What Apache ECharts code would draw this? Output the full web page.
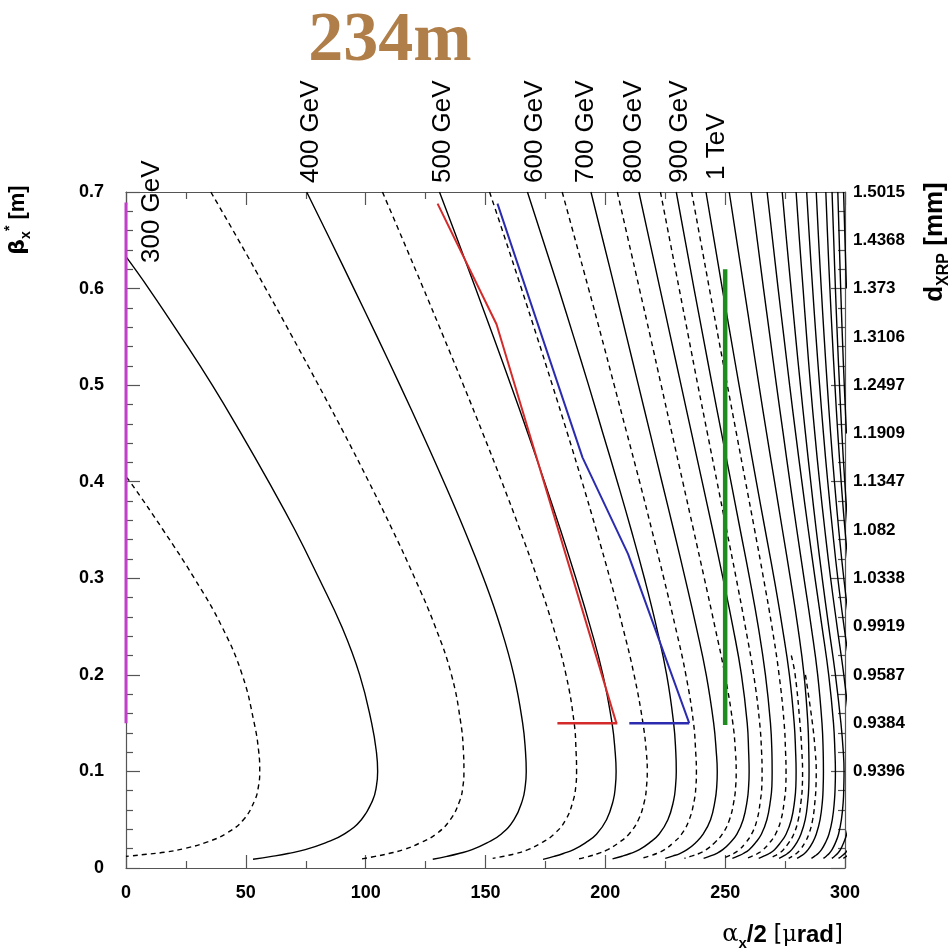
<!DOCTYPE html>
<html><head><meta charset="utf-8">
<script src="https://cdn.jsdelivr.net/npm/echarts/dist/echarts.min.js"></script>
<style>html,body{margin:0;padding:0;background:#fff}#c{width:952px;height:952px}</style>
</head><body><div id="c"></div>
<script>
// ---------- data: [alpha_x/2 (urad), beta_x* (m)] ----------
const e250 = [[0,0.405],[1.7,0.4],[15.5,0.35],[28.5,0.3],[40,0.25],[48.5,0.2],[53.5,0.15],[55.4,0.12],[55.8,0.1],[55.3,0.085],[53.7,0.07],[49,0.05],[42,0.036],[34,0.027],[25,0.0205],[16,0.0163],[8.5,0.0142],[1.7,0.0124],[0,0.012]];
const e300 = [[0,0.633],[9.5,0.6],[23,0.55],[36,0.5],[48,0.45],[59.5,0.4],[70.5,0.35],[80.5,0.3],[90,0.25],[97.5,0.2],[102.5,0.15],[104.5,0.12],[105,0.1],[104.5,0.085],[102.9,0.07],[98.2,0.05],[91,0.035],[83.2,0.026],[74.8,0.019],[67.6,0.015],[60.8,0.012],[53,0.009]];
const e350 = [[35.4,0.7],[47,0.65],[58.3,0.6],[69.4,0.55],[80.3,0.5],[91,0.45],[101.3,0.4],[111.2,0.35],[120.5,0.3],[129,0.25],[135.8,0.2],[139.7,0.15],[140.8,0.12],[141,0.1],[140.6,0.085],[139.3,0.07],[135.3,0.05],[129.3,0.035],[122.7,0.026],[115.8,0.019],[109.7,0.015],[104,0.012],[97.5,0.009]];
const e400 = [[75.4,0.7],[85.3,0.65],[95.1,0.6],[104.8,0.55],[114.3,0.5],[123.6,0.45],[132.6,0.4],[141.2,0.35],[149.2,0.3],[156.2,0.25],[161.8,0.2],[165.5,0.15],[166.7,0.12],[167,0.1],[166.6,0.085],[165.4,0.07],[161.9,0.05],[156.5,0.035],[150.6,0.026],[144.4,0.019],[138.9,0.015],[133.9,0.012],[128,0.009]];
const e450 = [[107,0.7],[115.6,0.65],[124.1,0.6],[132.5,0.55],[140.8,0.5],[148.9,0.45],[156.8,0.4],[164.4,0.35],[171.6,0.3],[178.2,0.25],[183.6,0.2],[187,0.15],[187.8,0.12],[188,0.1],[187.7,0.085],[186.6,0.07],[183.5,0.05],[178.6,0.035],[173.3,0.026],[167.7,0.019],[162.8,0.015],[158.3,0.0125],[153,0.01]];
const e500 = [[130.8,0.7],[138.4,0.65],[145.9,0.6],[153.3,0.55],[160.6,0.5],[167.7,0.45],[174.6,0.4],[181.3,0.35],[187.7,0.3],[193.7,0.25],[199,0.2],[202.8,0.15],[204.1,0.12],[204.5,0.1],[204.2,0.085],[203.3,0.07],[200.5,0.05],[196.3,0.035],[191.7,0.026],[186.8,0.019],[182.5,0.015],[178.6,0.012],[174,0.009]];
const e550 = [[151.7,0.7],[158.4,0.65],[165,0.6],[171.5,0.55],[177.9,0.5],[184.2,0.45],[190.3,0.4],[196.2,0.35],[201.9,0.3],[207.2,0.25],[212,0.2],[215.7,0.15],[217.1,0.12],[217.5,0.1],[217.2,0.085],[216.4,0.07],[213.8,0.05],[209.8,0.035],[205.5,0.026],[201,0.019],[197,0.015],[193.3,0.0122],[189,0.0095]];
const e600 = [[167.5,0.7],[174,0.65],[180.5,0.6],[186.8,0.55],[193,0.5],[199,0.45],[205,0.4],[210.8,0.35],[216.3,0.3],[221.3,0.25],[225.6,0.2],[228.5,0.15],[229.4,0.12],[229.6,0.1],[229.3,0.085],[228.5,0.07],[226.1,0.05],[222.4,0.035],[218.4,0.026],[214.2,0.019],[210.4,0.015],[207,0.0122],[203,0.0095]];
const e650 = [[182,0.7],[187.5,0.65],[193,0.6],[198.4,0.55],[203.7,0.5],[209,0.45],[214.3,0.4],[219.4,0.35],[224.4,0.3],[229.2,0.25],[233.6,0.2],[236.8,0.15],[237.7,0.12],[238,0.1],[237.8,0.085],[237.1,0.07],[235,0.05],[231.8,0.035],[228.3,0.026],[224.7,0.019],[221.4,0.015],[218.5,0.0125],[215,0.01]];
const e700 = [[194,0.7],[199,0.65],[204,0.6],[208.9,0.55],[213.8,0.5],[218.7,0.45],[223.6,0.4],[228.5,0.35],[233.3,0.3],[237.9,0.25],[242.1,0.2],[245.2,0.15],[246.3,0.12],[246.7,0.1],[246.5,0.085],[245.8,0.07],[243.9,0.05],[240.8,0.035],[237.6,0.026],[234.1,0.019],[231.1,0.015],[228.3,0.0125],[225,0.01]];
const e750 = [[205,0.7],[209.6,0.65],[214.2,0.6],[218.8,0.55],[223.3,0.5],[227.8,0.45],[232.3,0.4],[236.8,0.35],[241.3,0.3],[245.7,0.25],[249.9,0.2],[253.2,0.15],[254.3,0.12],[254.6,0.1],[254.4,0.085],[253.7,0.07],[251.8,0.05],[248.8,0.035],[245.5,0.026],[242.1,0.019],[239.1,0.015],[236.2,0.0125],[233,0.01]];
const e800 = [[214,0.7],[218.4,0.65],[222.8,0.6],[227.2,0.55],[231.6,0.5],[236,0.45],[240.4,0.4],[244.8,0.35],[249.1,0.3],[253.2,0.25],[256.8,0.2],[259.2,0.15],[259.8,0.12],[260,0.1],[259.8,0.085],[259.2,0.07],[257.5,0.05],[254.9,0.035],[252,0.026],[249,0.019],[246.3,0.015],[243.9,0.0125],[241,0.01]];
const e850 = [[223,0.7],[226.9,0.65],[230.8,0.6],[234.7,0.55],[238.6,0.5],[242.6,0.45],[246.6,0.4],[250.6,0.35],[254.6,0.3],[258.4,0.25],[261.9,0.2],[264.4,0.15],[265.2,0.12],[265.4,0.1],[265.3,0.085],[264.7,0.07],[263.3,0.05],[261,0.035],[258.5,0.026],[255.9,0.019],[253.6,0.015],[251.5,0.0125],[249,0.01]];
const e900 = [[229.6,0.7],[233.3,0.65],[237,0.6],[240.8,0.55],[244.6,0.5],[248.5,0.45],[252.4,0.4],[256.3,0.35],[260.2,0.3],[263.8,0.25],[266.8,0.2],[268.9,0.15],[269.5,0.12],[269.6,0.1],[269.5,0.085],[268.9,0.07],[267.4,0.05],[265.1,0.035],[262.6,0.026],[260,0.019],[257.6,0.015],[255.5,0.0125],[253,0.01]];
const e950 = [[236,0.7],[239.7,0.65],[243.4,0.6],[247.1,0.55],[250.9,0.5],[254.7,0.45],[258.5,0.4],[262.3,0.35],[266,0.3],[269.5,0.25],[272.5,0.2],[274.6,0.15],[275.2,0.12],[275.4,0.1],[275.3,0.085],[274.7,0.07],[273.3,0.05],[271,0.035],[268.5,0.026],[265.9,0.019],[263.6,0.015],[261.5,0.0125],[259,0.01]];
const e1000 = [[242,0.7],[245.4,0.65],[248.8,0.6],[252.3,0.55],[255.8,0.5],[259.4,0.45],[263,0.4],[266.7,0.35],[270.4,0.3],[273.8,0.25],[276.8,0.2],[278.8,0.15],[279.4,0.12],[279.6,0.1],[279.5,0.085],[279,0.07],[277.6,0.05],[275.4,0.035],[273,0.026],[270.6,0.019],[268.4,0.015],[266.3,0.0125],[264,0.01]];
const e1050 = [[277.6,0.22],[279.2,0.2],[281.2,0.15],[282,0.12],[282.3,0.1],[282.2,0.085],[281.7,0.07],[280.5,0.05],[278.6,0.035],[276.5,0.026],[274.3,0.019],[272.4,0.015],[270.6,0.0125],[268.5,0.01]];
const e1100 = [[251.7,0.7],[254.8,0.65],[257.9,0.6],[261,0.55],[264.1,0.5],[267.3,0.45],[270.6,0.4],[273.9,0.35],[277.2,0.3],[280.3,0.25],[282.9,0.2],[284.5,0.15],[284.9,0.12],[285,0.1],[284.9,0.085],[284.5,0.07],[283.4,0.05],[281.6,0.035],[279.8,0.026],[277.8,0.019],[276,0.015],[274.4,0.0125],[272.5,0.01]];
const e1150 = [[283.5,0.2],[286.4,0.15],[287.6,0.12],[288,0.1],[287.9,0.085],[287.5,0.07],[286.5,0.05],[284.9,0.035],[283.2,0.026],[281.3,0.019],[279.7,0.015],[278.2,0.0125],[276.5,0.01]];
const e1200 = [[260.8,0.7],[263.4,0.65],[266,0.6],[268.7,0.55],[271.4,0.5],[274.2,0.45],[277,0.4],[279.9,0.35],[282.9,0.3],[285.9,0.25],[288.6,0.2],[290.4,0.15],[290.9,0.12],[291,0.1],[290.9,0.085],[290.6,0.07],[289.6,0.05],[288,0.035],[286.4,0.026],[284.6,0.019],[283.1,0.015],[281.7,0.0125],[280,0.01]];
const e1300 = [[267.5,0.7],[269.8,0.65],[272.1,0.6],[274.5,0.55],[276.9,0.5],[279.4,0.45],[282,0.4],[284.7,0.35],[287.5,0.3],[290.4,0.25],[293.2,0.2],[295.2,0.15],[295.8,0.12],[296,0.1],[295.9,0.085],[295.6,0.07],[294.7,0.05],[293.3,0.035],[291.8,0.026],[290.2,0.019],[288.8,0.015],[287.5,0.0125],[286,0.01]];
const e1400 = [[273.8,0.7],[275.6,0.65],[277.5,0.6],[279.4,0.55],[281.4,0.5],[283.5,0.45],[285.7,0.4],[288,0.35],[290.5,0.3],[293.2,0.25],[296,0.2],[298.3,0.15],[299.3,0.12],[299.6,0.1],[299.5,0.085],[299.3,0.07],[298.5,0.05],[297.3,0.035],[296,0.026],[294.6,0.019],[293.4,0.015],[292.3,0.0125],[291,0.01]];
const e1500 = [[279.6,0.7],[281,0.65],[282.5,0.6],[284,0.55],[285.6,0.5],[287.4,0.45],[289.4,0.4],[291.6,0.35],[294,0.3],[296.7,0.25],[299.5,0.2],[301.8,0.15],[302.7,0.12],[303,0.1],[302.9,0.085],[302.7,0.07],[301.9,0.05],[300.7,0.035],[299.4,0.026],[298.1,0.019],[296.9,0.015],[295.8,0.0125],[294.5,0.01]];
const e1600 = [[284,0.7],[285.2,0.65],[286.5,0.6],[287.9,0.55],[289.4,0.5],[291,0.45],[292.8,0.4],[294.8,0.35],[297,0.3],[299.6,0.25],[302.5,0.2],[305,0.15],[306.1,0.12],[306.5,0.1],[306.4,0.085],[306.1,0.07],[305.3,0.05],[304,0.035],[302.6,0.026],[301.2,0.019],[299.9,0.015],[298.7,0.0125],[297.3,0.01]];
const e1700 = [[288,0.7],[289,0.65],[290.1,0.6],[291.3,0.55],[292.6,0.5],[294,0.45],[295.6,0.4],[297.4,0.35],[299.5,0.3],[302,0.25],[305,0.2],[308,0.15],[309.4,0.12],[310,0.1],[309.9,0.085],[309.6,0.07],[308.6,0.05],[307.1,0.035],[305.5,0.026],[303.8,0.019],[302.3,0.015],[300.9,0.0125],[299.3,0.01]];
const e1800 = [[292,0.7],[292.8,0.65],[293.7,0.6],[294.7,0.55],[295.8,0.5],[297,0.45],[298.4,0.4],[300,0.35],[302,0.3],[304.4,0.25]];
const e1900 = [[294.6,0.7],[295.3,0.65],[296,0.6],[296.8,0.55],[297.7,0.5],[298.7,0.45],[299.9,0.4],[301.3,0.35]];
const e2000 = [[297,0.7],[297.6,0.65],[298.2,0.6],[298.9,0.55],[299.7,0.5],[300.6,0.45]];
const e2100 = [[299.4,0.7],[300,0.65],[300.6,0.6]];

const solidCurves = [e300, e400, e500, e600, e700, e800, e900, e1000, e1100, e1200, e1300, e1400, e1500, e1600, e1700, e1800, e1900, e2000, e2100];
const dashedCurves = [e250, e350, e450, e550, e650, e750, e850, e950, e1050, e1150];

const magentaLine = [[0,0.15],[0,0.689]];
const redLine = [[130,0.688],[154.6,0.563],[204.6,0.15]];
const redBar = [[180,0.15],[205,0.15]];
const blueLine = [[155,0.688],[190.5,0.425],[209.5,0.325],[235,0.15]];
const blueBar = [[210,0.15],[235,0.15]];
const greenLine = [[250,0.148],[250,0.62]];

const energyLabels = ['300 GeV','400 GeV','500 GeV','600 GeV','700 GeV','800 GeV','900 GeV','1 TeV'];
// right-axis labels (d_XRP, mm) at beta* = 0.10, 0.15, ..., 0.70
const rightTickLabels = ['0.9396','0.9384','0.9587','0.9919','1.0338','1.082','1.1347','1.1909','1.2497','1.3106','1.373','1.4368','1.5015'];

// ---------- chart ----------
const chart = echarts.init(document.getElementById('c'));
const AX = '#555';
const tickFont = {fontFamily:'"Liberation Sans", Arial, sans-serif', fontWeight:'bold', fontSize:18, color:'#000'};

function curveSeries(data, dashed){
  return {type:'line', data:data, showSymbol:false, smooth:0.45, silent:true, z:2,
    xAxisIndex:0, yAxisIndex:0,
    lineStyle:{color:'#000', width:1.4, type: dashed ? [5,4] : 'solid'}};
}
function colorSeries(data, color, width){
  return {type:'line', data:data, showSymbol:false, silent:true, z:5,
    xAxisIndex:0, yAxisIndex:0, lineStyle:{color:color, width:width}};
}

const series = [];
dashedCurves.forEach(c => series.push(curveSeries(c, true)));
solidCurves.forEach(c => series.push(curveSeries(c, false)));
series.push(colorSeries(magentaLine, '#c23fca', 3));
series.push(colorSeries(redLine, '#d42a2a', 2));
series.push(colorSeries(redBar, '#d42a2a', 2.5));
series.push(colorSeries(blueLine, '#2b2bb0', 2));
series.push(colorSeries(blueBar, '#2b2bb0', 2.5));
series.push(colorSeries(greenLine, '#1e8c1e', 4.5));

function xAx(pos, showLabel){
  return {type:'value', position:pos, min:0, max:300, interval:50,
    axisLine:{show:true, onZero:false, lineStyle:{color:AX, width:1.2}},
    axisTick:{show:true, inside:true, length:13, lineStyle:{color:AX, width:1.2}},
    minorTick:{show:true, splitNumber:2, length:7, lineStyle:{color:AX, width:1.2}},
    splitLine:{show:false}, minorSplitLine:{show:false},
    axisLabel:Object.assign({show:showLabel, margin:16}, tickFont)};
}
function yAx(pos, showLabel){
  return {type:'value', position:pos, min:0, max:0.7, interval:0.1,
    axisLine:{show:true, onZero:false, lineStyle:{color:AX, width:1.2}},
    axisTick:{show:true, inside:true, length:14, lineStyle:{color:AX, width:1.2}},
    minorTick:{show:true, splitNumber:5, length:7, lineStyle:{color:AX, width:1.2}},
    splitLine:{show:false}, minorSplitLine:{show:false},
    axisLabel:Object.assign({show:showLabel, margin:22}, tickFont)};
}

const yRightLabels = {type:'value', position:'right', min:0, max:0.7, interval:0.05,
  axisLine:{show:false}, axisTick:{show:false}, splitLine:{show:false},
  axisLabel:{show:true, margin:8, fontSize:17, fontFamily:tickFont.fontFamily, fontWeight:'bold', color:'#000',
    formatter:function(v){
      const i = Math.round((v - 0.1) / 0.05);
      return (i >= 0 && i < rightTickLabels.length) ? rightTickLabels[i] : '';
    }}};

const LBL = '26px "Liberation Sans", Arial, sans-serif';
const labelPos = [[152,263],[311,183],[443,183],[535,183],[586,183],[634,183],[680,183],[717,180]];
const graphics = energyLabels.map((t, i) => ({
  type:'text', x:labelPos[i][0], y:labelPos[i][1], rotation:Math.PI/2, silent:true,
  style:{text:t, font:LBL, fill:'#000', textAlign:'left', textVerticalAlign:'middle', align:'left', verticalAlign:'middle'}
}));
graphics.push({type:'text', x:390, y:42, silent:true,
  style:{text:'234m', font:'bold 70px "Liberation Serif", "Times New Roman", serif', fill:'#b07e48',
    textAlign:'center', textVerticalAlign:'middle', align:'center', verticalAlign:'middle'}});
// left axis title
graphics.push({type:'text', x:18, y:220, rotation:Math.PI/2, silent:true,
  style:{text:'{g|β}{sub|x}{sup|*}{t| [m]}', textAlign:'center', textVerticalAlign:'middle', align:'center', verticalAlign:'middle',
    rich:{
      g:{fontFamily:'"DejaVu Sans", sans-serif', fontSize:22, fontWeight:'bold', color:'#000', lineHeight:30, verticalAlign:'middle'},
      sub:{fontFamily:'"Liberation Sans", Arial', fontSize:14, fontWeight:'bold', color:'#000', lineHeight:30, verticalAlign:'bottom'},
      sup:{fontFamily:'"Liberation Sans", Arial', fontSize:14, fontWeight:'bold', color:'#000', lineHeight:30, verticalAlign:'top'},
      t:{fontFamily:'"Liberation Sans", Arial', fontSize:22, fontWeight:'bold', color:'#000', lineHeight:30, verticalAlign:'middle'}
    }}});
// right axis title
graphics.push({type:'text', x:935, y:242, rotation:Math.PI/2, silent:true,
  style:{text:'{t|d}{sub|XRP}{t| [mm]}', textAlign:'center', textVerticalAlign:'middle', align:'center', verticalAlign:'middle',
    rich:{
      t:{fontFamily:'"Liberation Sans", Arial', fontSize:26, fontWeight:'bold', color:'#000', lineHeight:34, verticalAlign:'middle'},
      sub:{fontFamily:'"Liberation Sans", Arial', fontSize:16, fontWeight:'bold', color:'#000', lineHeight:34, verticalAlign:'bottom'}
    }}});
// x axis title
graphics.push({type:'text', x:843, y:935, silent:true,
  style:{text:'{a|α}{sub|x}{b|/2 }{c|[}{m|μ}{b|rad}{c|]}', textAlign:'right', textVerticalAlign:'middle', align:'right', verticalAlign:'middle',
    rich:{
      a:{fontFamily:'"DejaVu Serif", serif', fontSize:24, color:'#000', lineHeight:32, verticalAlign:'middle'},
      sub:{fontFamily:'"Liberation Sans", Arial', fontSize:15, fontWeight:'bold', color:'#000', lineHeight:32, verticalAlign:'bottom'},
      b:{fontFamily:'"Liberation Sans", Arial', fontSize:24, fontWeight:'bold', color:'#000', lineHeight:32, verticalAlign:'middle'},
      c:{fontFamily:'"DejaVu Sans", sans-serif', fontSize:23, fontWeight:'normal', color:'#000', lineHeight:32, verticalAlign:'middle'},
      m:{fontFamily:'"DejaVu Serif", serif', fontSize:22, color:'#000', lineHeight:32, verticalAlign:'middle'}
    }}});

chart.setOption({
  animation:false,
  backgroundColor:'#fff',
  grid:{left:126, right:107, top:192, bottom:84, containLabel:false},
  xAxis:[xAx('bottom', true), xAx('top', false)],
  yAxis:[yAx('left', true), yAx('right', false), yRightLabels],
  series:series,
  graphic:graphics
});
</script></body></html>
